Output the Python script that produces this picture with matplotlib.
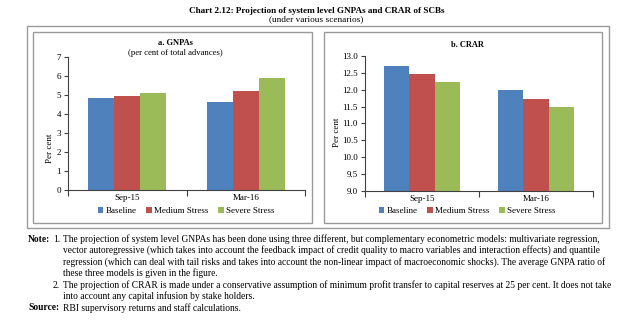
import matplotlib
matplotlib.use("Agg")
import matplotlib.pyplot as plt
from matplotlib.patches import Rectangle
import numpy as np

# ---- data ----
periods = ["Sep-15", "Mar-16"]
scenarios = ["Baseline", "Medium Stress", "Severe Stress"]
gnpa_baseline = [4.82, 4.65]
gnpa_medium = [4.93, 5.22]
gnpa_severe = [5.08, 5.89]
crar_baseline = [12.70, 11.99]
crar_medium = [12.47, 11.73]
crar_severe = [12.24, 11.49]
gnpa_ticks = [0, 1, 2, 3, 4, 5, 6, 7]
crar_ticks = [9.0, 9.5, 10.0, 10.5, 11.0, 11.5, 12.0, 12.5, 13.0]

colors = ["#4F81BD", "#C0504D", "#9BBB59"]
SERIF = ["Liberation Serif", "DejaVu Serif"]
plt.rcParams["font.family"] = SERIF

W, H = 624, 321
fig = plt.figure(figsize=(W / 100, H / 100), dpi=100)
fig.patch.set_facecolor("white")


def rect(x0, y0, x1, y1):
    """pixel box (top-left origin) -> figure fraction rect"""
    return [x0 / W, 1 - y1 / H, (x1 - x0) / W, (y1 - y0) / H]


def fx(x):
    return x / W


def fy(y):
    return 1 - y / H


# frames around the panels
frame_col = "#9a9a9a"
for (x0, y0, x1, y1) in [(27, 26, 609, 228), (33, 32, 312, 223), (324, 32, 602, 223)]:
    fig.patches.append(Rectangle((fx(x0), fy(y1)), fx(x1) - fx(x0), fy(y0) - fy(y1),
                                 transform=fig.transFigure, fill=False,
                                 edgecolor=frame_col, linewidth=1.0))

TFS = 6.5


def draw_panel(box, series, ylim, yticks, fmt):
    ax = fig.add_axes(rect(*box))
    x = np.arange(len(periods)) + 0.5
    bw = 0.22
    for i, vals in enumerate(series):
        ax.bar(x + (i - 1) * bw, vals, width=bw, color=colors[i],
               label=scenarios[i], linewidth=0)
    ax.set_xlim(0, len(periods))
    ax.set_ylim(*ylim)
    ax.set_yticks(yticks)
    ax.set_yticklabels([fmt.format(v) for v in yticks], fontsize=TFS)
    ax.set_xticks(x)
    ax.set_xticklabels(periods, fontsize=TFS)
    ax.set_xticks(np.arange(len(periods) + 1), minor=True)
    ax.tick_params(axis="x", which="major", length=0, pad=3)
    ax.tick_params(axis="x", which="minor", length=4, width=0.8, direction="out",
                   color="#404040")
    ax.tick_params(axis="y", length=3, width=0.8, direction="out", pad=2,
                   color="#404040")
    for s in ("top", "right"):
        ax.spines[s].set_visible(False)
    for s in ("left", "bottom"):
        ax.spines[s].set_color("#404040")
        ax.spines[s].set_linewidth(0.8)
    return ax


ax1 = draw_panel((68, 57, 305, 190), [gnpa_baseline, gnpa_medium, gnpa_severe],
                 (0, 7), gnpa_ticks, "{:.0f}")
ax2 = draw_panel((365, 56, 593, 191), [crar_baseline, crar_medium, crar_severe],
                 (9, 13), crar_ticks, "{:.1f}")

# legends
for ax, cx in ((ax1, 186), (ax2, 467)):
    handles, labels = ax.get_legend_handles_labels()
    fig.legend(handles, labels, loc="center", bbox_to_anchor=(fx(cx), fy(211)),
               ncol=3, frameon=False, fontsize=TFS, handlelength=0.65,
               handleheight=0.65, handletextpad=0.2, columnspacing=1.1,
               borderaxespad=0, borderpad=0)

# axis titles
fig.text(fx(50), fy(148), "Per cent", rotation=90, ha="center", va="center", fontsize=TFS)
fig.text(fx(337), fy(132), "Per cent", rotation=90, ha="center", va="center", fontsize=TFS)

# panel titles
fig.text(fx(175), fy(43), "a. GNPAs", ha="center", va="center", fontsize=6,
         fontweight="bold")
fig.text(fx(175), fy(53), "(per cent of total advances)", ha="center", va="center",
         fontsize=6.2)
fig.text(fx(467), fy(45), "b. CRAR", ha="center", va="center", fontsize=6,
         fontweight="bold")

# chart title
fig.text(fx(317), fy(11), "Chart 2.12: Projection of system level GNPAs and CRAR of SCBs",
         ha="center", va="center", fontsize=6.6, fontweight="bold")
fig.text(fx(316), fy(19.5), "(under various scenarios)", ha="center", va="center",
         fontsize=6.7)

# notes
nfs = 6.85
lines = [
    (63, 239, "The projection of system level GNPAs has been done using three different, but complementary econometric models: multivariate regression,"),
    (63, 250.5, "vector autoregressive (which takes into account the feedback impact of credit quality to macro variables and interaction effects) and quantile"),
    (63, 262, "regression (which can deal with tail risks and takes into account the non-linear impact of macroeconomic shocks). The average GNPA ratio of"),
    (63, 273.5, "these three models is given in the figure."),
    (63, 285, "The projection of CRAR is made under a conservative assumption of minimum profit transfer to capital reserves at 25 per cent. It does not take"),
    (63, 296.5, "into account any capital infusion by stake holders."),
    (63, 308, "RBI supervisory returns and staff calculations."),
]
for x, y, t in lines:
    fig.text(fx(x), fy(y), t, ha="left", va="center", fontsize=nfs)
fig.text(fx(28), fy(239), "Note:", ha="left", va="center", fontsize=nfs, fontweight="bold")
fig.text(fx(53), fy(239), "1.", ha="left", va="center", fontsize=nfs)
fig.text(fx(53), fy(285), "2.", ha="left", va="center", fontsize=nfs)
fig.text(fx(28), fy(308), "Source:", ha="left", va="center", fontsize=nfs, fontweight="bold")

fig.savefig("out.png", dpi=100, facecolor="white")
